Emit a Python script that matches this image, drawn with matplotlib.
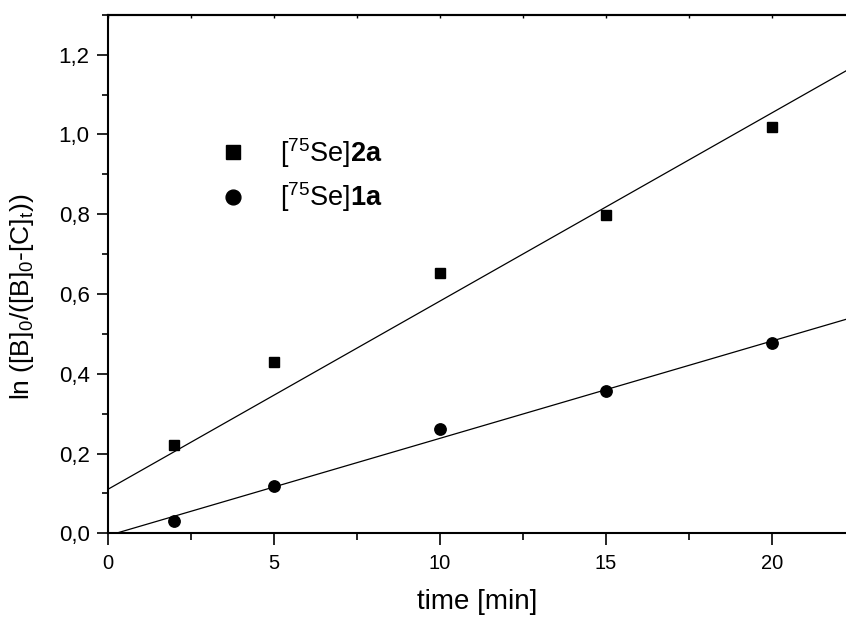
import matplotlib
matplotlib.use("Agg")
import matplotlib.pyplot as plt
import numpy as np
from matplotlib.ticker import MultipleLocator, FuncFormatter

# reaction time [min]
time_min = [2, 5, 10, 15, 20]

# ln([B]0/([B]0-[C]t))
se2a = [0.2225, 0.43, 0.6525, 0.7975, 1.019]
se1a = [0.0315, 0.1175, 0.261, 0.356, 0.4775]

# fitted lines, [slope, intercept]
fit_2a = [0.0472, 0.11]
fit_1a = [0.0244, -0.006]

label_2a = r"[$^{75}$Se]$\mathbf{2a}$"
label_1a = r"[$^{75}$Se]$\mathbf{1a}$"

x_max = 22.23
y_max = 1.3

plt.rcParams["font.family"] = ["Liberation Sans", "DejaVu Sans"]
plt.rcParams["mathtext.fontset"] = "custom"
plt.rcParams["mathtext.rm"] = "Liberation Sans"
plt.rcParams["mathtext.it"] = "Liberation Sans:italic"
plt.rcParams["mathtext.bf"] = "Liberation Sans:bold"

fig = plt.figure(figsize=(8.46, 6.21), dpi=100)
ax = fig.add_axes([0.1273, 0.1412, 0.8727, 0.8351])

x_fit = np.linspace(0, x_max, 200)
ax.plot(x_fit, np.polyval(fit_2a, x_fit), color="black", lw=0.9)
ax.plot(x_fit, np.polyval(fit_1a, x_fit), color="black", lw=0.9)

ax.plot(time_min, se2a, ls="none", marker="s", ms=7.7, color="black", label=label_2a)
ax.plot(time_min, se1a, ls="none", marker="o", ms=8.2, color="black", label=label_1a)

ax.set_xlim(0, x_max)
ax.set_ylim(0, y_max)

ax.xaxis.set_major_locator(MultipleLocator(5))
ax.xaxis.set_minor_locator(MultipleLocator(2.5))
ax.yaxis.set_major_locator(MultipleLocator(0.2))
ax.yaxis.set_minor_locator(MultipleLocator(0.1))
ax.yaxis.set_major_formatter(FuncFormatter(lambda v, p: f"{v:.1f}".replace(".", ",")))

ax.spines["right"].set_visible(False)
for side in ["left", "bottom", "top"]:
    ax.spines[side].set_linewidth(1.5)

ax.tick_params(axis="y", which="major", direction="out", length=8, width=1.2, labelsize=16, pad=5)
ax.tick_params(axis="y", which="minor", direction="out", length=4.5, width=1.2)
ax.tick_params(axis="x", which="major", direction="out", length=8.6, width=1.2, labelsize=14.5, pad=6)
ax.tick_params(axis="x", which="minor", direction="out", length=5, width=1.2)

top = ax.secondary_xaxis("top")
top.set_xticks(np.arange(0, 22.5, 2.5))
top.tick_params(direction="in", length=2.5, width=1.0, labeltop=False)
top.spines["top"].set_linewidth(1.5)

ax.set_xlabel("time [min]", fontsize=20, labelpad=12)
ax.set_ylabel(r"ln ([B]$_\mathrm{0}$/([B]$_\mathrm{0}$-[C]$_\mathrm{t}$))", fontsize=19)
ax.yaxis.set_label_coords(-0.097, 0.456)

ax.legend(
    loc="center left",
    bbox_to_anchor=(0.136, 0.691),
    frameon=False,
    fontsize=19.5,
    markerscale=1.3,
    borderpad=0,
    borderaxespad=0,
    handlelength=1.85,
    handletextpad=0.8,
    labelspacing=0.4
)

plt.savefig("out.png", dpi=100)
plt.close()
